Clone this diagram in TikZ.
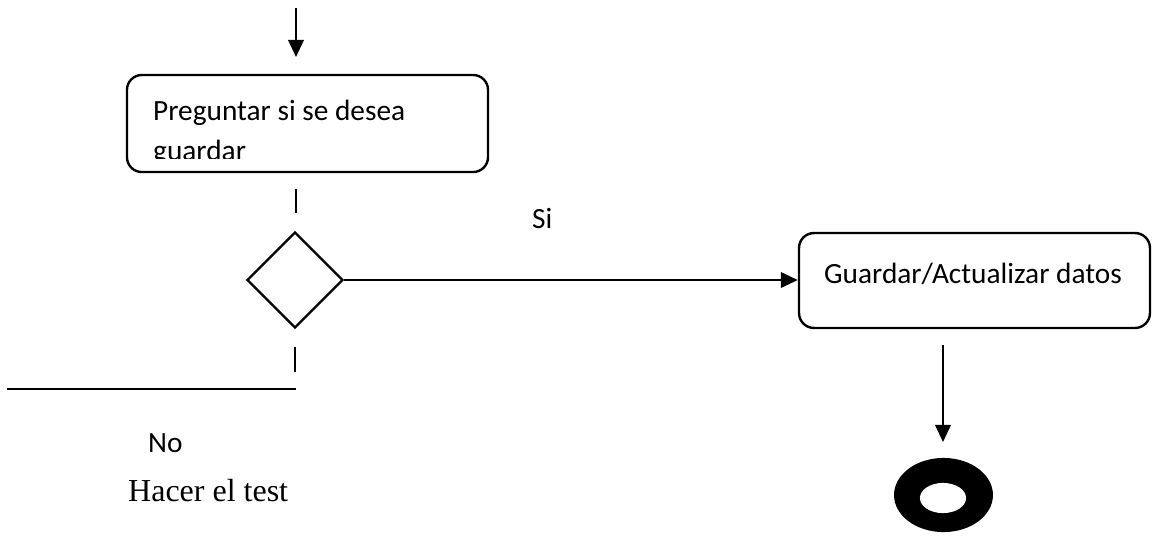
\documentclass[tikz,border=0pt]{standalone}
\usepackage{fontspec}
\setmainfont{Carlito}
\newfontfamily\timesfont{Liberation Serif}
\usetikzlibrary{arrows.meta, positioning, shapes.geometric}

\begin{document}
\begin{tikzpicture}[x=0.375pt, y=-0.375pt, line width=0.9pt,
    >={Triangle[length=6.4pt,width=5.8pt]},
    actbox/.style={draw, rounded corners=5.6pt, inner sep=0pt},
    txt/.style={anchor=base west, inner sep=0pt, font=\fontsize{11}{13}\selectfont},
    decision/.style={draw, diamond, aspect=1, minimum width=36pt, minimum height=36pt, inner sep=0pt},
    endring/.style={ellipse, inner sep=0pt}]
  \useasboundingbox (0,0) rectangle (1152,535);

  % actividades
  \node[actbox, minimum width=135.4pt, minimum height=36.4pt] (box1) at (307.5,123.5) {};
  \node[actbox, minimum width=131.6pt, minimum height=35.6pt] (box2) at (974.5,280.5) {};
  \node[decision] (dec) at (295,280) {};

  % textos
  \node[txt] (ask) at (152,120) {Preguntar si se desea};
  \begin{scope}
    \clip (127,75) rectangle (488,158);
    \node[txt] (ask2) at (152,160) {guardar};
  \end{scope}
  \node[txt] (act) at (823,283) {Guardar/Actualizar datos};
  \node[txt] (si) at (531,228) {Si};
  \node[txt] (no) at (147,452) {No};
  \node[anchor=base west, inner sep=0pt, font=\timesfont\fontsize{12}{14}\selectfont] (test) at (127,501) {Hacer el test};

  % nodo final
  \node[endring, fill=black, minimum width=37.1pt, minimum height=27.8pt] (fin) at (943.5,495) {};
  \node[endring, fill=white, minimum width=17.3pt, minimum height=11.3pt] (finhole) at (943,498) {};

  % flechas y lineas
  \coordinate (start) at (296,8);
  \coordinate (into) at (296,57);
  \draw[->] (start) -- (into);
  \coordinate (d1a) at (296,189);
  \coordinate (d1b) at (296,213);
  \draw (d1a) -- (d1b);
  \coordinate (d2a) at (295,347);
  \coordinate (d2b) at (295,372);
  \draw (d2a) -- (d2b);
  \coordinate (noa) at (296,389);
  \coordinate (nob) at (7,389);
  \draw (noa) -- (nob);
  \draw[->] (dec.east) -- (dec.east -| box2.west);
  \coordinate (outa) at (943,345);
  \coordinate (outb) at (943,442);
  \draw[->] (outa) -- (outb);
\end{tikzpicture}
\end{document}
